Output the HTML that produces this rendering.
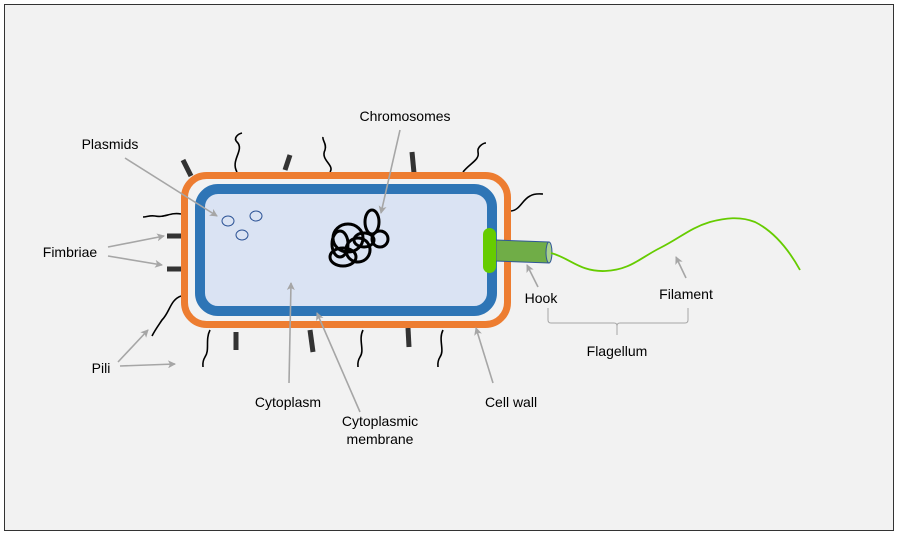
<!DOCTYPE html><html><head><style>body{margin:0;background:#fff}svg{display:block}text{font-family:"Liberation Sans",sans-serif;font-size:14px;fill:#000}</style></head><body>
<svg width="898" height="536" viewBox="0 0 898 536">
<defs><marker id="a" markerWidth="8" markerHeight="8" refX="7" refY="4" orient="auto" markerUnits="userSpaceOnUse"><path d="M0,0 L8,4 L0,8 L2,4z" fill="#a6a6a6"/></marker></defs>
<rect x="4.5" y="4.5" width="889" height="526" fill="#f2f2f2" stroke="#333"/>
<g stroke="#000" stroke-width="1.6" fill="none">
<path d="M237,172 C230,160 245,150 237,142 C233,138 238,134 242,133"/>
<path d="M330,172 C335,165 320,160 325,150 C327,144 322,140 323,137"/>
<path d="M463,172 C470,163 480,160 478,152 C477,147 483,143 486,143"/>
<path d="M511,211 C520,210 522,200 530,196 C535,193 540,194 543,194"/>
<path d="M181,214 C170,212 165,218 155,216 C150,215 147,217 143,217"/>
<path d="M181,296 C170,300 170,312 162,320 C158,326 155,330 152,336"/>
<path d="M210,330 C205,340 210,350 205,357 C202,362 203,365 203,367"/>
<path d="M363,330 C358,340 365,350 360,357 C357,362 358,365 358,367"/>
<path d="M443,330 C438,340 445,350 440,357 C437,362 438,365 438,367"/>
</g>
<g stroke="#333" stroke-width="5">
<line x1="183" y1="160" x2="191" y2="176"/><line x1="290" y1="155" x2="285" y2="170"/><line x1="412" y1="152" x2="414" y2="173"/>
<line x1="167" y1="236" x2="181" y2="236"/><line x1="167" y1="269" x2="181" y2="269"/>
<line x1="236" y1="332" x2="236" y2="350"/><line x1="310" y1="330" x2="313" y2="352"/><line x1="408" y1="328" x2="409" y2="347"/>
</g>
<rect x="184.5" y="175.5" width="323" height="149" rx="22" fill="#f2f2f2" stroke="#ed7d31" stroke-width="7"/>
<rect x="200" y="189" width="292" height="122" rx="18" fill="#dae3f3" stroke="#2e75b6" stroke-width="10"/>
<path d="M496,240 L549,242 L549,263 L496,261z" fill="#70ad47" stroke="#2f5597" stroke-width="1"/>
<ellipse cx="549" cy="252.5" rx="3" ry="10.5" fill="#a9d18e" stroke="#2f5597"/>
<rect x="483" y="228" width="13" height="45" rx="6.5" fill="#66cc00"/>
<path d="M551,253 C570,258 580,272 605,271 C630,270 640,258 660,248 C680,238 690,228 710,222 C725,218 740,216 755,222 C775,232 790,252 800,270" fill="none" stroke="#66cc00" stroke-width="1.8"/>
<g fill="none" stroke="#2f5597" stroke-width="1"><ellipse cx="228" cy="221" rx="6" ry="5"/><ellipse cx="256" cy="216" rx="6" ry="5"/><ellipse cx="242" cy="235" rx="6" ry="5"/></g>
<g fill="none" stroke="#000" stroke-width="3">
<ellipse cx="348" cy="238" rx="15" ry="14"/><ellipse cx="372" cy="222" rx="7" ry="12"/><ellipse cx="380" cy="239" rx="8" ry="8"/>
<ellipse cx="343" cy="257" rx="13" ry="9"/><ellipse cx="358" cy="250" rx="12" ry="12" transform="rotate(30 358 250)"/><ellipse cx="340" cy="244" rx="8" ry="13"/><ellipse cx="364" cy="240" rx="10" ry="7"/>
</g>
<g stroke="#a6a6a6" stroke-width="1.6" marker-end="url(#a)">
<line x1="400" y1="130" x2="381" y2="213"/><line x1="125" y1="158" x2="217" y2="216"/>
<line x1="108" y1="247" x2="164" y2="236"/><line x1="108" y1="256" x2="162" y2="265"/>
<line x1="118" y1="362" x2="148" y2="330"/><line x1="120" y1="366" x2="175" y2="364"/>
<line x1="289" y1="383" x2="291" y2="283"/><line x1="360" y1="412" x2="317" y2="313"/>
<line x1="493" y1="383" x2="476" y2="328"/><line x1="538" y1="287" x2="527" y2="265"/><line x1="686" y1="278" x2="676" y2="257"/>
</g>
<path d="M548,308 V320 Q548,323 551,323 H614 Q617,323 617,326 V335 M617,326 Q617,323 620,323 H685 Q688,323 688,320 V308" fill="none" stroke="#a6a6a6" stroke-width="1"/>
<g text-anchor="middle">
<text x="405" y="121">Chromosomes</text><text x="110" y="149">Plasmids</text><text x="70" y="257">Fimbriae</text>
<text x="101" y="373">Pili</text><text x="288" y="407">Cytoplasm</text><text x="380" y="426">Cytoplasmic</text><text x="380" y="444">membrane</text>
<text x="511" y="407">Cell wall</text><text x="541" y="303">Hook</text><text x="686" y="299">Filament</text><text x="617" y="356">Flagellum</text>
</g>
</svg></body></html>
